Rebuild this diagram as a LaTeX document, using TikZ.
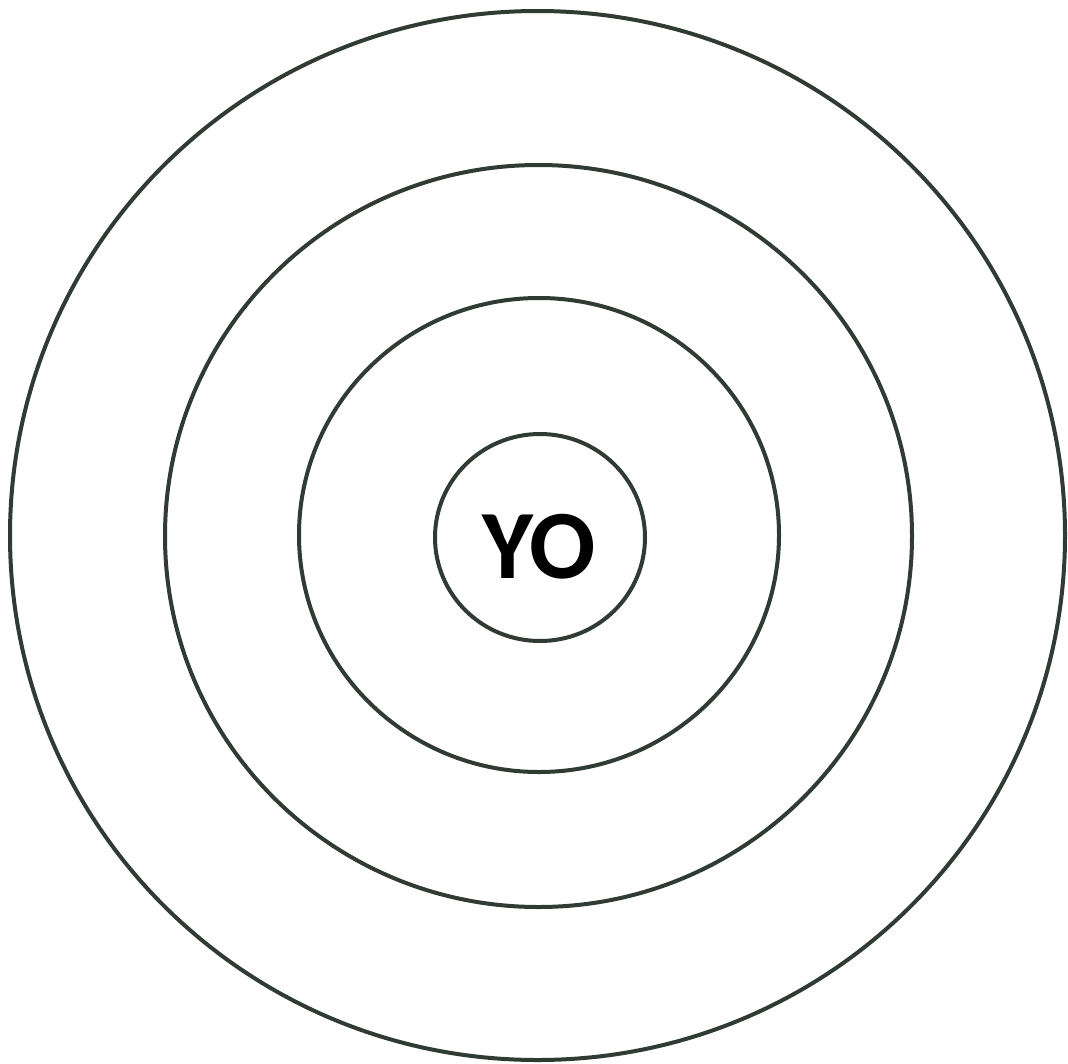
\documentclass[tikz,border=0pt]{standalone}
\usepackage{fontspec}
\newfontfamily\yofont{Carlito}
\definecolor{ring}{HTML}{2F3B33}
\begin{document}
\begin{tikzpicture}[x=1pt,y=-1pt,
  ringline/.style={draw=ring,line width=4pt},
  lbl/.style={font=\yofont\bfseries\fontsize{98}{98}\selectfont,inner sep=0pt,anchor=base}]
\useasboundingbox (0,0) rectangle (1068,1063);
\draw[ringline] (537.5,535.5) ellipse [x radius=527.5, y radius=524.5];
\draw[ringline] (538.5,536) ellipse [x radius=373.5, y radius=371];
\draw[ringline] (539,535) ellipse [x radius=240, y radius=237];
\draw[ringline] (540,537.5) ellipse [x radius=105, y radius=103.5];
\node[lbl] (yo) at (539,578) {YO};
\end{tikzpicture}
\end{document}
